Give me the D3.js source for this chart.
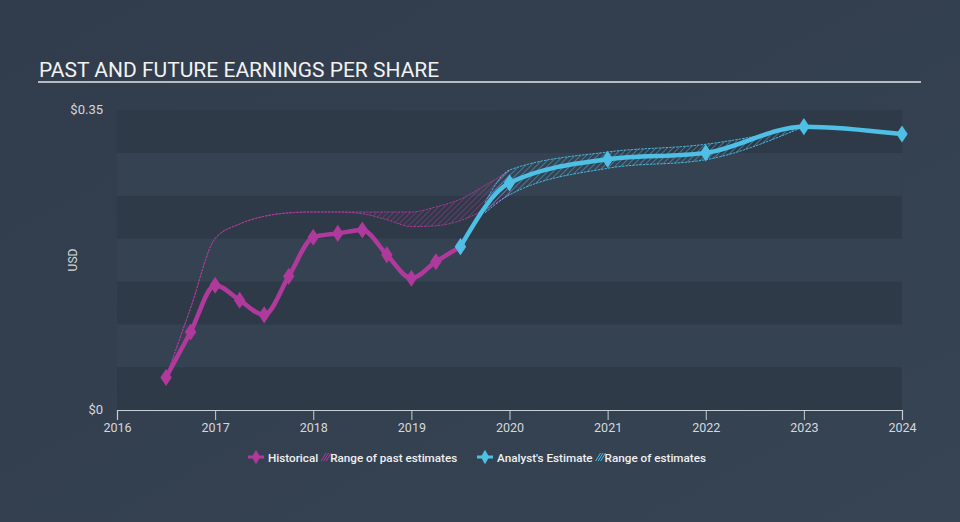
<!DOCTYPE html>
<html><head><meta charset="utf-8">
<script src="https://cdn.jsdelivr.net/npm/d3@7"></script>
<style>
html,body{margin:0;padding:0;background:#333f4f;}
svg{display:block;font-family:Roboto,"Open Sans",sans-serif;}
</style></head>
<body><svg id="c" width="960" height="522"></svg>
<script>
const histDates = [2016.5,2016.75,2017,2017.25,2017.5,2017.75,2018,2018.25,2018.5,2018.75,2019,2019.25,2019.5];
const histValues = [0.038,0.091,0.1455,0.128,0.111,0.156,0.2015,0.206,0.210,0.181,0.1537,0.173,0.1906];

const pastRangeDates = [2016.5,2016.75,2017,2017.25,2017.5,2017.75,2018,2018.25,2018.5,2018.75,2019,2019.25,2019.5,2019.75,2020];
const pastRangeLow  = [0.038,0.119,0.200,0.217,0.226,0.230,0.231,0.231,0.229,0.222,0.214,0.215,0.221,0.234,0.252];
const pastRangeHigh = [0.038,0.119,0.200,0.217,0.226,0.230,0.231,0.231,0.231,0.231,0.231,0.237,0.246,0.262,0.279];

const estDates = [2019.5,2020,2021,2022,2023,2024];
const estValues = [0.1906,0.265,0.2925,0.300,0.3306,0.322];

const estRangeDates = [2019.75,2020,2021,2022,2023];
const estRangeLow  = [0.230,0.251,0.282,0.292,0.3306];
const estRangeHigh = [0.242,0.280,0.301,0.310,0.3306];

const yTicks = [0,0.35];
const yTickLabels = ["$0","$0.35"];
const xTicks = [2016,2017,2018,2019,2020,2021,2022,2023,2024];

const svg = d3.select("#c");
const W=960,H=522;
const magenta="#b0399c", blue="#4ec0e6";

const defs = svg.append("defs");
const bg = defs.append("linearGradient").attr("id","bg").attr("x1",0).attr("y1",0).attr("x2",1).attr("y2",1);
bg.append("stop").attr("offset","0%").attr("stop-color","#313c4c");
bg.append("stop").attr("offset","100%").attr("stop-color","#364454");
svg.append("rect").attr("width",W).attr("height",H).attr("fill","url(#bg)");

function hatch(id,color){
  const p = defs.append("pattern").attr("id",id).attr("patternUnits","userSpaceOnUse")
    .attr("width",4).attr("height",4).attr("patternTransform","rotate(45)");
  p.append("line").attr("x1",0).attr("y1",0).attr("x2",0).attr("y2",4)
    .attr("stroke",color).attr("stroke-width",1.1).attr("stroke-opacity",0.85);
}
hatch("hm",magenta); hatch("hb",blue);

const x = d3.scaleLinear().domain([2016,2024]).range([117,902]);
const y = d3.scaleLinear().domain([0,0.35]).range([410,110]);

// bands
const bandEdges = d3.range(0,0.35001,0.05);
for(let i=0;i<7;i++){
  svg.append("rect").attr("x",x(2016)).attr("width",x(2024)-x(2016))
    .attr("y",y(bandEdges[i+1])).attr("height",y(bandEdges[i])-y(bandEdges[i+1]))
    .attr("fill", i%2===0 ? "#2f3a49" : "#354252");
}

// title
svg.append("text").attr("x",39).attr("y",77).attr("fill","#f2f2f2")
  .attr("font-size",21).text("PAST AND FUTURE EARNINGS PER SHARE");
svg.append("line").attr("x1",38).attr("x2",921).attr("y1",82).attr("y2",82)
  .attr("stroke","#b8bcc2").attr("stroke-width",2);

// y labels
svg.selectAll(".yl").data(yTicks).enter().append("text")
  .attr("x",103).attr("y",d=>y(d)+4).attr("text-anchor","end")
  .attr("fill","#d5d8dc").attr("font-size",13).text((d,i)=>yTickLabels[i]);
svg.append("text").attr("transform","translate(77,260) rotate(-90)")
  .attr("text-anchor","middle").attr("fill","#d5d8dc").attr("font-size",12).text("USD");

// x axis
const xAxis = d3.axisBottom(x).tickValues(xTicks).tickFormat(d3.format("d")).tickSize(10).tickPadding(3);
const ga = svg.append("g").attr("transform","translate(0,410)").call(xAxis);
ga.select(".domain").attr("stroke","#c9ced4").attr("stroke-width",1.2);
ga.selectAll(".tick line").attr("stroke","#c9ced4");
ga.selectAll(".tick text").attr("fill","#d5d8dc").attr("font-size",12.5).attr("font-family","Roboto,sans-serif");

// range areas
function rangeArea(dates,low,high,fillId,color){
  const pts = dates.map((d,i)=>({d,l:low[i],h:high[i]}));
  const area = d3.area().x(p=>x(p.d)).y0(p=>y(p.l)).y1(p=>y(p.h)).curve(d3.curveMonotoneX);
  svg.append("path").datum(pts).attr("d",area).attr("fill",`url(#${fillId})`);
  const lo = d3.line().x(p=>x(p.d)).y(p=>y(p.l)).curve(d3.curveMonotoneX);
  const hi = d3.line().x(p=>x(p.d)).y(p=>y(p.h)).curve(d3.curveMonotoneX);
  [lo,hi].forEach(f=>svg.append("path").datum(pts).attr("d",f).attr("fill","none")
    .attr("stroke",color).attr("stroke-width",1).attr("stroke-dasharray","2.5,1").attr("opacity",0.9));
}
rangeArea(pastRangeDates,pastRangeLow,pastRangeHigh,"hm",magenta);
rangeArea(estRangeDates,estRangeLow,estRangeHigh,"hb",blue);

// lines
function series(dates,vals,color,w){
  const pts = dates.map((d,i)=>({d,v:vals[i]}));
  const line = d3.line().x(p=>x(p.d)).y(p=>y(p.v)).curve(d3.curveMonotoneX);
  svg.append("path").datum(pts).attr("d",line).attr("fill","none")
    .attr("stroke",color).attr("stroke-width",w).attr("stroke-linejoin","round");
  svg.selectAll(null).data(pts).enter().append("path")
    .attr("d",d3.symbol(d3.symbolDiamond,85)())
    .attr("transform",p=>`translate(${x(p.d)},${y(p.v)}) scale(1.15,1)`)
    .attr("fill",color);
}
series(histDates,histValues,magenta,4.5);
series(estDates,estValues,blue,4.5);

// legend (laid out sequentially)
const lg = svg.append("g").attr("font-size",11.7).attr("fill","#f0f0f0").attr("font-weight",500);
function diamondIcon(cx,color){
  lg.append("line").attr("x1",cx-8).attr("x2",cx+8).attr("y1",457).attr("y2",457).attr("stroke",color).attr("stroke-width",3);
  lg.append("path").attr("d",d3.symbol(d3.symbolDiamond,60)()).attr("transform",`translate(${cx},457)`).attr("fill",color);
}
function hatchIcon(x0,color){
  for(let k=0;k<3;k++) lg.append("line").attr("x1",x0+k*2.5).attr("y1",461).attr("x2",x0+k*2.5+5).attr("y2",453)
    .attr("stroke",color).attr("stroke-width",1);
}
function label(x0,t){
  const el = lg.append("text").attr("x",x0).attr("y",461.5).text(t);
  return x0 + el.node().getComputedTextLength();
}
let cx = 248;
diamondIcon(cx+8,magenta);
let e = label(cx+20,"Historical");
hatchIcon(e+3,magenta);
label(e+12,"Range of past estimates");
cx = 477;
diamondIcon(cx+8,blue);
e = label(cx+20,"Analyst's Estimate");
hatchIcon(e+3,blue);
label(e+12,"Range of estimates");
</script></body></html>
